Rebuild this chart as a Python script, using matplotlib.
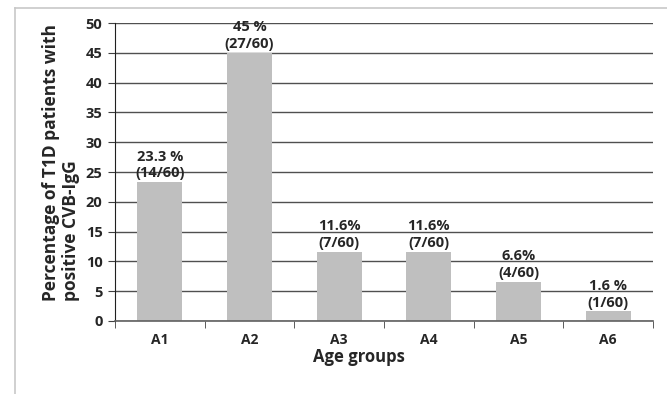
import matplotlib.pyplot as plt
from matplotlib.lines import Line2D

# Data
groups = ['A1', 'A2', 'A3', 'A4', 'A5', 'A6']
percent = [23.3, 45, 11.6, 11.6, 6.6, 1.6]
labels = ['23.3 %\n(14/60)', '45 %\n(27/60)', '11.6%\n(7/60)',
          '11.6%\n(7/60)', '6.6%\n(4/60)', '1.6 %\n(1/60)']
yticks = [0, 5, 10, 15, 20, 25, 30, 35, 40, 45, 50]

plt.rcParams['font.family'] = ['Open Sans', 'DejaVu Sans']
plt.rcParams['font.weight'] = 'bold'

fig = plt.figure(figsize=(6.67, 3.94), dpi=100)
ax = fig.add_axes([0.1724, 0.1853, 0.8066, 0.7563])

x = list(range(len(groups)))
ax.bar(x, percent, width=0.5, color='#bfbfbf', zorder=2)
for xi, v, lab in zip(x, percent, labels):
    ax.text(xi, v + 0.3, lab, ha='center', va='bottom', fontsize=10.5,
            fontweight='bold', color='#262626', linespacing=1.25, zorder=3)

ax.set_xlim(-0.5, len(groups) - 0.5)
ax.set_ylim(0, 50)
ax.set_yticks(yticks)
ax.set_yticklabels([str(t) for t in yticks], fontsize=10.5, fontweight='bold', color='#262626')
ax.yaxis.grid(True, color='#505050', linewidth=1.0, zorder=0)
ax.set_axisbelow(True)

# category labels centered, tick marks at boundaries
ax.set_xticks(x)
ax.set_xticklabels(groups, fontsize=10, fontweight='bold', color='#262626')
ax.tick_params(axis='x', length=0, pad=9)
ax.set_xticks([i - 0.5 for i in range(len(groups) + 1)], minor=True)
ax.tick_params(axis='x', which='minor', length=5, color='#404040', direction='out')
ax.tick_params(axis='y', length=5, color='#404040', pad=4)

for s in ['top', 'right']:
    ax.spines[s].set_visible(False)
ax.spines['left'].set_color('#202020')
ax.spines['bottom'].set_color('#606060')
ax.spines['bottom'].set_linewidth(1.2)

# axis titles
fig.text(0.092, 0.235, 'Percentage of T1D patients with\npositive CVB-IgG', rotation=90,
         ha='center', va='bottom', multialignment='left', fontsize=12.5,
         fontweight='bold', color='#262626', linespacing=1.15)
fig.text(0.538, 0.095, 'Age groups', ha='center', va='center', fontsize=12,
         fontweight='bold', color='#262626')

# outer chart frame
fig.add_artist(Line2D([15 / 667, 15 / 667], [0, 1 - 8 / 394], transform=fig.transFigure,
                      color='#c8c8c8', linewidth=1.2))
fig.add_artist(Line2D([15 / 667, 1], [1 - 8 / 394, 1 - 8 / 394], transform=fig.transFigure,
                      color='#c8c8c8', linewidth=1.2))

plt.savefig('out.png', dpi=100)
